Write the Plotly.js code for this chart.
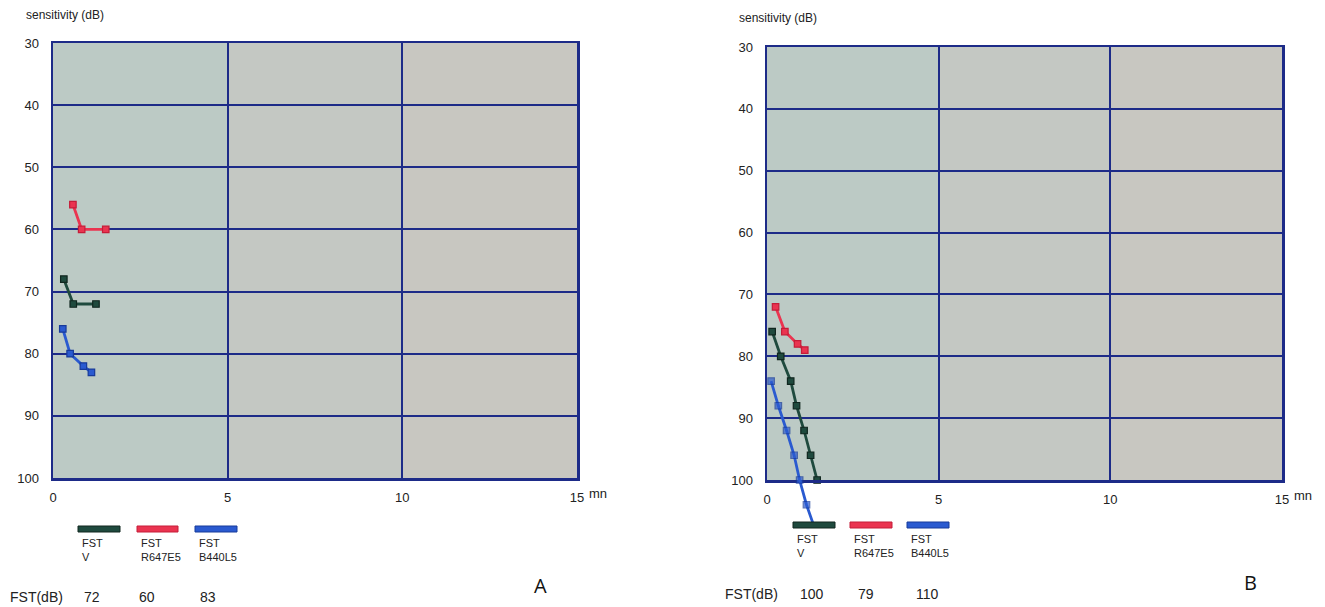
<!DOCTYPE html>
<html>
<head>
<meta charset="utf-8">
<script src="https://cdn.plot.ly/plotly-3.0.1.min.js"></script>
<style>
html,body{margin:0;padding:0;background:#fff;}
#chart{width:1325px;height:607px;}
</style>
</head>
<body>
<div id="chart"></div>
<script>
// ---------- DATA ----------
// Panel A
const timeA_V = [0.31, 0.58, 1.23];
const sensA_V = [68, 72, 72];
const timeA_R = [0.57, 0.82, 1.51];
const sensA_R = [56, 60, 60];
const timeA_B = [0.28, 0.49, 0.87, 1.10];
const sensA_B = [76, 80, 82, 83];
// Panel B
const timeB_V = [0.15, 0.40, 0.69, 0.86, 1.08, 1.27, 1.46];
const sensB_V = [76, 80, 84, 88, 92, 96, 100];
const timeB_R = [0.25, 0.52, 0.89, 1.10];
const sensB_R = [72, 76, 78, 79];
const timeB_B = [0.12, 0.33, 0.57, 0.79, 0.95, 1.15, 1.37];
const sensB_B = [84, 88, 92, 96, 100, 104, 107.5];

const seriesNames = ["FST<br>V", "FST<br>R647E5", "FST<br>B440L5"];
const fstA = ["72", "60", "83"];
const fstB = ["100", "79", "110"];
const xTickVals = [0, 5, 10, 15];
const xTickText = ["0", "5", "10", "15"];
const yTickVals = [30, 40, 50, 60, 70, 80, 90, 100];
const yTickText = ["30", "40", "50", "60", "70", "80", "90", "100"];
const panelLabels = ["A", "B"];
const yTitle = "sensitivity (dB)";
const xUnit = "mn";
const fstRowTitle = "FST(dB)";

// ---------- STYLE ----------
const W = 1325, H = 607;
const FONT = "Liberation Sans, Arial, sans-serif";
const TXT = "#222222";
const NAVY = "#1d2b88";
const COLORS = ["#1f4a3e", "#ea3450", "#2a5ad0"];
const EDGE = ["#10261f", "#c51c38", "#173a9a"];
const BG = ["#bccac5", "#c4c8c3", "#c8c7c1"];

const px = v => v / W;
const py = v => 1 - v / H;

const domA = {x: [px(53), px(577)], y: [py(478), py(43)]};
const domB = {x: [px(767), px(1282)], y: [py(480), py(47)]};

// extended overlay axis for panel B (line running past the frame)
const extBottom = py(528);
const yrB = domB.y[1] - domB.y[0];
const extMax = 100 + 70 * (domB.y[0] - extBottom) / yrB;

function xaxis(dom, anchor) {
  return {
    domain: dom, anchor: anchor, range: [0, 15],
    tickvals: xTickVals, ticktext: xTickText,
    showgrid: true, gridcolor: NAVY, gridwidth: 2,
    showline: true, linecolor: NAVY, linewidth: 2.5, mirror: true,
    zeroline: false, ticks: "", ticklabelstandoff: 6,
    tickfont: {family: FONT, size: 13, color: TXT}, fixedrange: true
  };
}
function yaxis(dom, anchor) {
  return {
    domain: dom, anchor: anchor, range: [100, 30],
    tickvals: yTickVals, ticktext: yTickText,
    showgrid: true, gridcolor: NAVY, gridwidth: 2,
    showline: true, linecolor: NAVY, linewidth: 2.5, mirror: true,
    zeroline: false, ticks: "", ticklabelstandoff: 9,
    tickfont: {family: FONT, size: 13, color: TXT}, fixedrange: true
  };
}

function series(x, y, i, xa, ya, sizes) {
  return {
    type: "scatter", mode: "lines+markers", x: x, y: y,
    xaxis: xa, yaxis: ya, cliponaxis: false, hoverinfo: "x+y",
    line: {color: COLORS[i], width: 2.8},
    marker: {symbol: "square", size: sizes || 6.5, color: COLORS[i], line: {color: EDGE[i], width: 1.2}},
    showlegend: false
  };
}

const traces = [
  series(timeA_V, sensA_V, 0, "x", "y"),
  series(timeA_R, sensA_R, 1, "x", "y"),
  series(timeA_B, sensA_B, 2, "x", "y"),
  series(timeB_V, sensB_V, 0, "x2", "y2"),
  series(timeB_R, sensB_R, 1, "x2", "y2"),
  series(timeB_B, sensB_B, 2, "x3", "y3", timeB_B.map((v, k) => k === timeB_B.length - 1 ? 0 : 6.5))
];

const shapes = [];
[["x", "y"], ["x2", "y2"]].forEach(([xr, yr]) => {
  for (let c = 0; c < 3; c++) {
    shapes.push({type: "rect", xref: xr, yref: yr, x0: c * 5, x1: (c + 1) * 5, y0: 30, y1: 100,
      fillcolor: BG[c], line: {width: 0}, layer: "below"});
  }
});

const annotations = [];
function legendBlock(barY, barXs, textY, fstTitleX, fstY, fstXs, fstVals, labelX, label, titleX, titleY) {
  barXs.forEach((bx, i) => {
    shapes.push({type: "rect", xref: "paper", yref: "paper",
      x0: px(bx[0]), x1: px(bx[1]), y0: py(barY + 3), y1: py(barY - 3),
      fillcolor: COLORS[i], line: {color: EDGE[i], width: 1}, layer: "above"});
    annotations.push({xref: "paper", yref: "paper", x: px(bx[0] + 2), y: py(textY),
      xanchor: "left", yanchor: "top", align: "left", showarrow: false,
      text: seriesNames[i], font: {family: FONT, size: 11, color: TXT}});
  });
  annotations.push({xref: "paper", yref: "paper", x: px(fstTitleX), y: py(fstY),
    xanchor: "left", yanchor: "middle", showarrow: false,
    text: fstRowTitle, font: {family: FONT, size: 14, color: TXT}});
  fstXs.forEach((fx, i) => {
    annotations.push({xref: "paper", yref: "paper", x: px(fx), y: py(fstY),
      xanchor: "center", yanchor: "middle", showarrow: false,
      text: fstVals[i], font: {family: FONT, size: 14, color: TXT}});
  });
  annotations.push({xref: "paper", yref: "paper", x: px(labelX), y: py(fstY - 12),
    xanchor: "center", yanchor: "middle", showarrow: false,
    text: label, font: {family: "Open Sans, Liberation Sans, sans-serif", size: 20, color: "#111"}});
  annotations.push({xref: "paper", yref: "paper", x: px(titleX), y: py(titleY),
    xanchor: "left", yanchor: "middle", showarrow: false,
    text: yTitle, font: {family: FONT, size: 12, color: TXT}});
}

legendBlock(529, [[78, 120], [137, 178], [195, 237]], 535, 8, 597, [92, 147, 208], fstA, 540, panelLabels[0], 24, 15);
legendBlock(525, [[793, 835], [850, 892], [907, 949]], 531, 723, 594, [812, 866, 927], fstB, 1250, panelLabels[1], 737, 18);

[["x", "y"], ["x2", "y2"]].forEach(([xr, yr]) => {
  annotations.push({xref: xr, yref: yr, x: 15, y: 100, xanchor: "left", yanchor: "middle",
    xshift: 10, yshift: -15, showarrow: false, text: xUnit,
    font: {family: FONT, size: 13, color: TXT}});
});

const layout = {
  width: W, height: H,
  margin: {l: 0, r: 0, t: 0, b: 0},
  paper_bgcolor: "#ffffff", plot_bgcolor: "rgba(0,0,0,0)",
  showlegend: false,
  xaxis: xaxis(domA.x, "y"),
  yaxis: yaxis(domA.y, "x"),
  xaxis2: xaxis(domB.x, "y2"),
  yaxis2: yaxis(domB.y, "x2"),
  xaxis3: {domain: domB.x, anchor: "y3", range: [0, 15], visible: false, fixedrange: true},
  yaxis3: {domain: [extBottom, domB.y[1]], anchor: "x3", range: [extMax, 30], visible: false, fixedrange: true},
  shapes: shapes,
  annotations: annotations
};

Plotly.newPlot("chart", traces, layout, {displayModeBar: false, staticPlot: true});
</script>
</body>
</html>
